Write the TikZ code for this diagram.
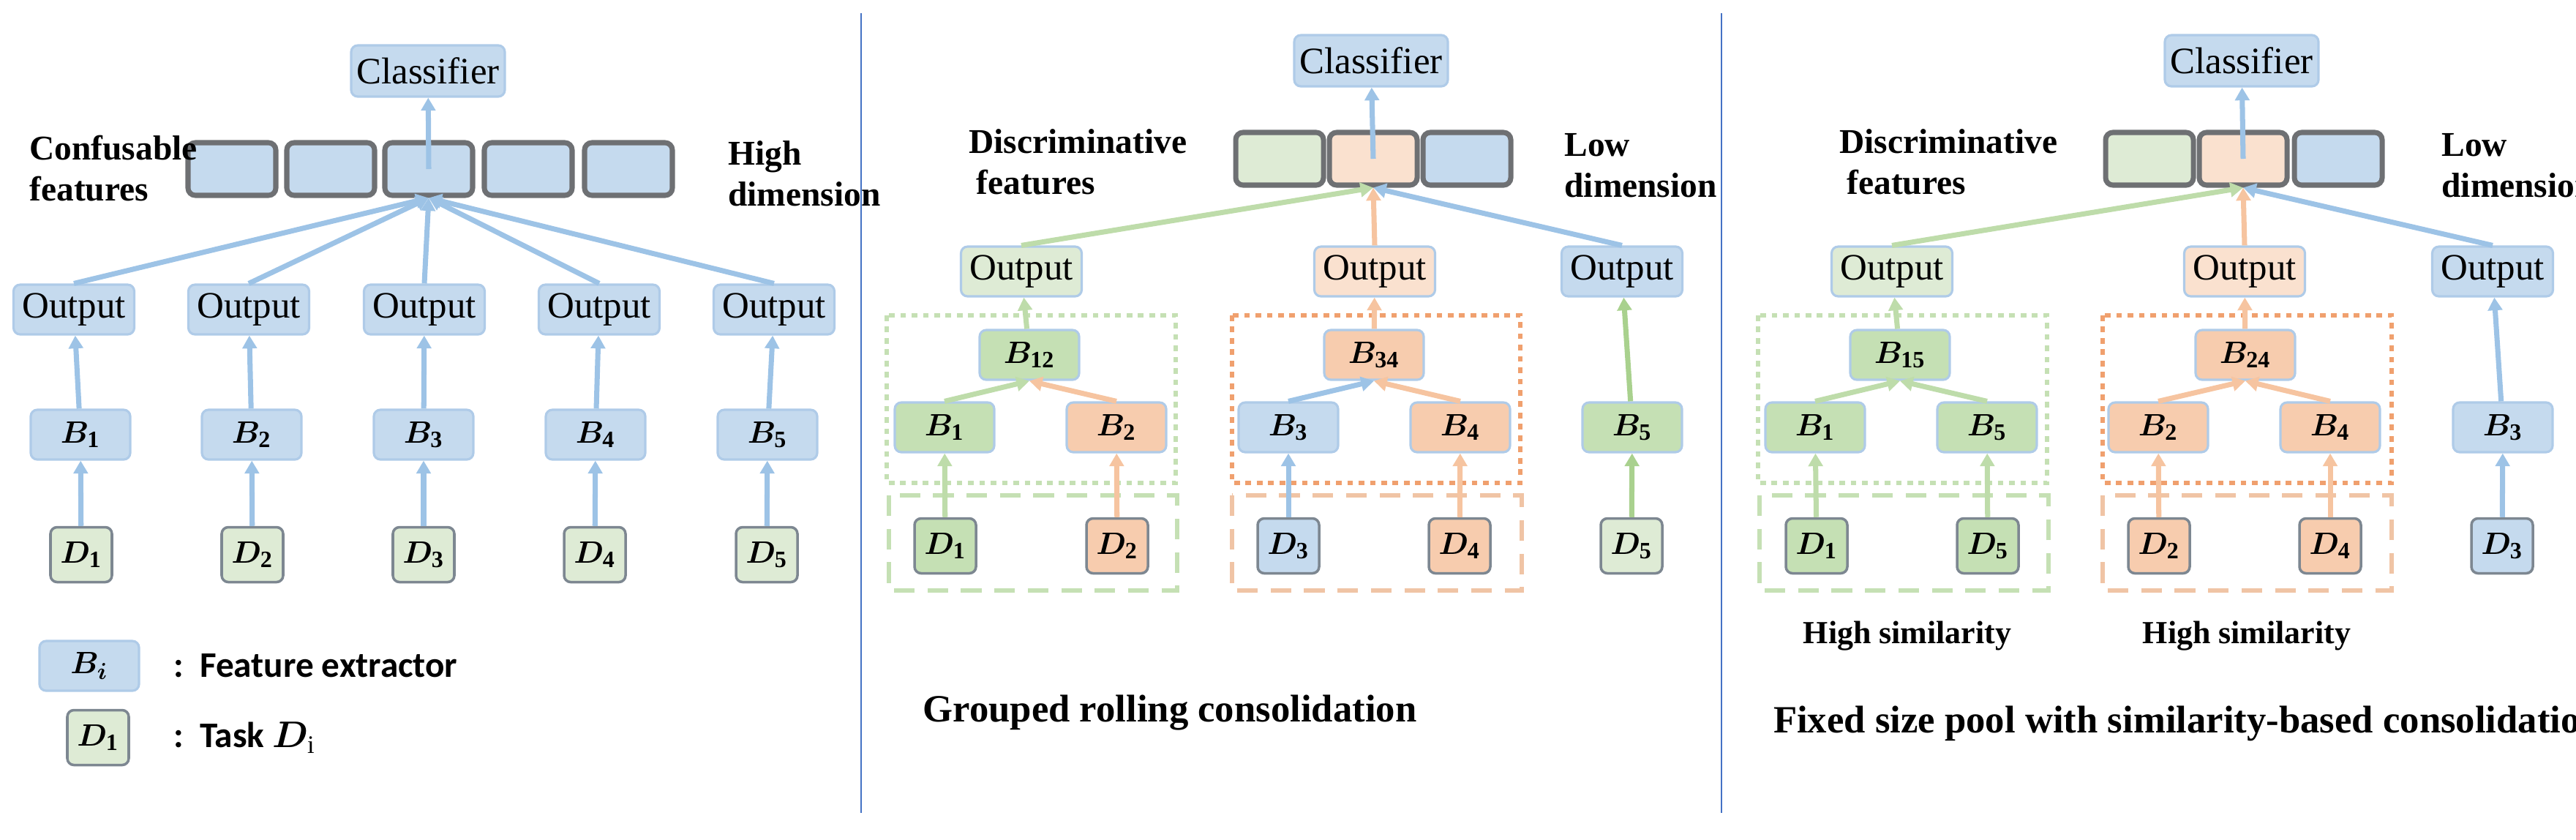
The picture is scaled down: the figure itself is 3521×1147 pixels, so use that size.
\documentclass[tikz,border=0pt]{standalone}
\usepackage{fontspec}
\usepackage{amsmath,bm}
\setmainfont{Liberation Serif}
\newfontfamily\carlitofont{Carlito}
\usetikzlibrary{arrows.meta}
\definecolor{bF}{RGB}{197,218,238}\definecolor{bD}{RGB}{175,203,232}
\definecolor{gL}{RGB}{222,235,213}\definecolor{gM}{RGB}{197,224,180}\definecolor{gD}{RGB}{185,215,165}
\definecolor{oL}{RGB}{250,225,207}\definecolor{oM}{RGB}{247,204,174}\definecolor{oD}{RGB}{240,196,165}
\definecolor{aB}{RGB}{157,195,230}\definecolor{aG}{RGB}{190,220,170}\definecolor{aO}{RGB}{246,196,160}
\definecolor{aG2}{RGB}{169,209,142}
\definecolor{dk}{RGB}{110,112,115}\definecolor{dg}{RGB}{125,135,145}\definecolor{div}{RGB}{68,114,196}
\definecolor{dotO}{RGB}{240,160,110}
\tikzset{x=0.1mm,y=-0.1mm,
 mybx/.style={draw=bD,line width=0.9pt,rounded corners=0.9mm,inner sep=0pt},
 mycls/.style={mybx,fill=bF,minimum width=21mm,minimum height=7mm,font=\fontsize{14.5}{15}\selectfont},
 myout/.style={mybx,minimum width=16.5mm,minimum height=6.8mm,font=\fontsize{14.5}{15}\selectfont},
 mybb/.style={mybx,minimum width=13.6mm,minimum height=6.8mm,font=\fontsize{13}{14}\selectfont},
 mydd/.style={draw=dg,line width=1pt,rounded corners=0.9mm,inner sep=0pt,minimum width=8.4mm,minimum height=7.5mm,font=\fontsize{13}{14}\selectfont},
 myfb/.style={draw=dk,line width=2pt,rounded corners=1mm,minimum width=12mm,minimum height=7.2mm,inner sep=0pt},
 myar/.style={line width=2pt,-{Triangle[width=5.5pt,length=5pt]}},
 mylab/.style={font=\bfseries\fontsize{13.5}{16}\selectfont,align=left,anchor=west},
 myttl/.style={font=\bfseries\fontsize{15}{17}\selectfont},
 grpdot/.style={line width=1.6pt,dash pattern=on 2.2pt off 2.2pt},
 grpdash/.style={line width=1.6pt,dash pattern=on 8pt off 5pt},
}
\newcommand{\Bm}[1]{$\boldsymbol{B}_{\mathbf{#1}}$}
\newcommand{\Dm}[1]{$\boldsymbol{D}_{\mathbf{#1}}$}
\begin{document}
\begin{tikzpicture}
\useasboundingbox (0,0) rectangle (3521,1147);
% dividers
\draw[div,line width=0.8pt] (1177,18) -- (1177,1111);
\draw[div,line width=0.8pt] (2353,18) -- (2353,1111);
%%%%% Panel 1
\node[mycls] (aC) at (585,97) {Classifier};
\foreach \x/\n in {317/1,452/2,586/3,722/4,859/5} \node[myfb,fill=bF] (aF\n) at (\x,231) {};
\node[mylab] (aL1) at (28,230) {Confusable\\features};
\node[mylab] (aL2) at (983,237) {High\\dimension};
\foreach \xo/\xb/\xd/\n in {101/110/111/1,340/344/345/2,580/579/579/3,819/814/813/4,1058/1049/1048/5}{
 \node[myout,fill=bF] (aO\n) at (\xo,423) {Output};
 \node[mybb,fill=bF] (aB\n) at (\xb,594) {\Bm{\n}};
 \node[mydd,fill=gL] (aD\n) at (\xd,758) {\Dm{\n}};
 \draw[myar,aB] (aD\n) -- (aB\n);
 \draw[myar,aB] (aB\n) -- (aO\n);
 \draw[myar,aB] (aO\n.north) -- (aF3.south);
}
\draw[myar,aB] (aF3.center) -- (aC);
\node[mybb,fill=bF] (aLB) at (122,910) {$\boldsymbol{B}_{\boldsymbol{i}}$};
\node[mydd,fill=gL] (aLD) at (134,1008) {\Dm{1}};
\node[anchor=west,font=\carlitofont\bfseries\fontsize{14}{16}\selectfont] (aT1) at (225,910) {:\ \ Feature extractor};
\node[anchor=west,font=\carlitofont\bfseries\fontsize{14}{16}\selectfont] (aT2) at (225,1008) {:\ \ Task $\boldsymbol{D}_{\mathrm{i}}$};
%%%%% Panel 2
\node[mycls] (bC) at (1874,83) {Classifier};
\node[myfb,fill=gL] (bF1) at (1749,217) {};
\node[myfb,fill=oL] (bF2) at (1877,217) {};
\node[myfb,fill=bF] (bF3) at (2005,217) {};
\node[mylab] (bL1) at (1312,221) {Discriminative\\\hspace*{1mm}features};
\node[mylab] (bL2) at (2126,226) {Low\\dimension};
\draw[gM,grpdot] (1212,431) rectangle (1607,660);
\draw[dotO,grpdot] (1684,431) rectangle (2078,660);
\draw[gM,grpdash] (1215,677) rectangle (1609,807);
\draw[oD,grpdash] (1684,677) rectangle (2080,807);
\node[myout,fill=gL] (bO1) at (1396,371) {Output};
\node[myout,fill=oL] (bO2) at (1879,371) {Output};
\node[myout,fill=bF] (bO3) at (2217,371) {Output};
\node[mybb,fill=gM] (bB12) at (1407,485) {\Bm{12}};
\node[mybb,fill=oM] (bB34) at (1878,485) {\Bm{34}};
\node[mybb,fill=gM] (bB1) at (1291,584) {\Bm{1}};
\node[mybb,fill=oM] (bB2) at (1526,584) {\Bm{2}};
\node[mybb,fill=bF] (bB3) at (1761,584) {\Bm{3}};
\node[mybb,fill=oM] (bB4) at (1996,584) {\Bm{4}};
\node[mybb,fill=gM] (bB5) at (2231,584) {\Bm{5}};
\node[mydd,fill=gM] (bD1) at (1292,746) {\Dm{1}};
\node[mydd,fill=oM] (bD2) at (1527,746) {\Dm{2}};
\node[mydd,fill=bF] (bD3) at (1761,746) {\Dm{3}};
\node[mydd,fill=oM] (bD4) at (1995,746) {\Dm{4}};
\node[mydd,fill=gL] (bD5) at (2230,746) {\Dm{5}};
\draw[myar,aG] (bD1) -- (bB1);
\draw[myar,aO] (bD2) -- (bB2);
\draw[myar,aB] (bD3) -- (bB3);
\draw[myar,aO] (bD4) -- (bB4);
\draw[myar,aG2] (bD5) -- (bB5);
\draw[myar,aG] (bB1.north) -- (bB12.south);
\draw[myar,aO] (bB2.north) -- (bB12.south);
\draw[myar,aB] (bB3.north) -- (bB34.south);
\draw[myar,aO] (bB4.north) -- (bB34.south);
\draw[myar,aG] (bB12) -- (bO1);
\draw[myar,aO] (bB34) -- (bO2);
\draw[myar,aG2] (bB5) -- (bO3);
\draw[myar,aG] (bO1.north) -- (bF2.south);
\draw[myar,aO] (bO2.north) -- (bF2.south);
\draw[myar,aB] (bO3.north) -- (bF2.south);
\draw[myar,aB] (bF2.center) -- (bC);
\node[myttl] (bT) at (1599,974) {Grouped rolling consolidation};
%%%%% Panel 3
\node[mycls] (cC) at (3064,83) {Classifier};
\node[myfb,fill=gL] (cF1) at (2938,217) {};
\node[myfb,fill=oL] (cF2) at (3066,217) {};
\node[myfb,fill=bF] (cF3) at (3196,217) {};
\node[mylab] (cL1) at (2502,221) {Discriminative\\\hspace*{1mm}features};
\node[mylab] (cL2) at (3325,226) {Low\\dimension};
\draw[gM,grpdot] (2403,431) rectangle (2798,660);
\draw[dotO,grpdot] (2874,431) rectangle (3269,660);
\draw[gM,grpdash] (2405,677) rectangle (2800,807);
\draw[oD,grpdash] (2874,677) rectangle (3269,807);
\node[myout,fill=gL] (cO1) at (2586,371) {Output};
\node[myout,fill=oL] (cO2) at (3068,371) {Output};
\node[myout,fill=bF] (cO3) at (3407,371) {Output};
\node[mybb,fill=gM] (cB15) at (2597,485) {\Bm{15}};
\node[mybb,fill=oM] (cB24) at (3069,485) {\Bm{24}};
\node[mybb,fill=gM] (cB1) at (2481,584) {\Bm{1}};
\node[mybb,fill=gM] (cB5) at (2716,584) {\Bm{5}};
\node[mybb,fill=oM] (cB2) at (2950,584) {\Bm{2}};
\node[mybb,fill=oM] (cB4) at (3185,584) {\Bm{4}};
\node[mybb,fill=bF] (cB3) at (3421,584) {\Bm{3}};
\node[mydd,fill=gM] (cD1) at (2483,746) {\Dm{1}};
\node[mydd,fill=gM] (cD5) at (2717,746) {\Dm{5}};
\node[mydd,fill=oM] (cD2) at (2951,746) {\Dm{2}};
\node[mydd,fill=oM] (cD4) at (3185,746) {\Dm{4}};
\node[mydd,fill=bF] (cD3) at (3420,746) {\Dm{3}};
\draw[myar,aG] (cD1) -- (cB1);
\draw[myar,aG] (cD5) -- (cB5);
\draw[myar,aO] (cD2) -- (cB2);
\draw[myar,aO] (cD4) -- (cB4);
\draw[myar,aB] (cD3) -- (cB3);
\draw[myar,aG] (cB1.north) -- (cB15.south);
\draw[myar,aG] (cB5.north) -- (cB15.south);
\draw[myar,aO] (cB2.north) -- (cB24.south);
\draw[myar,aO] (cB4.north) -- (cB24.south);
\draw[myar,aG] (cB15) -- (cO1);
\draw[myar,aO] (cB24) -- (cO2);
\draw[myar,aB] (cB3) -- (cO3);
\draw[myar,aG] (cO1.north) -- (cF2.south);
\draw[myar,aO] (cO2.north) -- (cF2.south);
\draw[myar,aB] (cO3.north) -- (cF2.south);
\draw[myar,aB] (cF2.center) -- (cC);
\node[font=\bfseries\fontsize{12.5}{15}\selectfont] (cS1) at (2607,869) {High similarity};
\node[font=\bfseries\fontsize{12.5}{15}\selectfont] (cS2) at (3071,869) {High similarity};
\node[myttl] (cT) at (2990,989) {Fixed size pool with similarity-based consolidation};
\end{tikzpicture}
\end{document}
